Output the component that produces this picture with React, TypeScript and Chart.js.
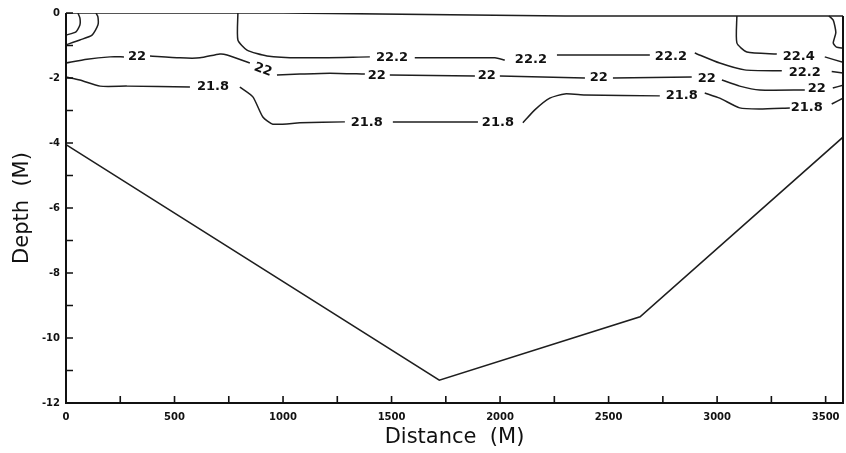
import React, { useEffect, useRef } from 'react';
import { Chart, registerables } from 'chart.js';

Chart.register(...registerables);

type Pt = [number, number];

// Axis ranges and tick labels
const distanceMax = 3580;
const depthMin = -12;
const depthMax = 0;
const xTickValues = [0, 500, 1000, 1500, 2000, 2500, 3000, 3500];
const yTickValues = [-12, -10, -8, -6, -4, -2, 0];

// Bottom (bathymetry) profile
const bottomProfile: Pt[] = [[0, -4.05], [1720, -11.3], [2645, -9.35], [3580, -3.82]];
// Water surface line
const surfaceLine: Pt[] = [[0, 0], [1000, 0], [2300, -0.09], [3580, -0.09]];

// Unlabeled corner contours
const cornerInner: Pt[] = [[0, -0.68], [46, -0.58], [64, -0.37], [64, -0.15], [55, 0]];
const cornerOuter: Pt[] = [[0, -0.98], [64, -0.83], [120, -0.68], [147, -0.37], [147, -0.12], [138, 0]];
const rightWiggle: Pt[] = [[3515, -0.09], [3535, -0.22], [3547, -0.6], [3535, -0.92], [3550, -1.05], [3580, -1.08]];

// Contour 22.4
const c224: Pt[][] = [
  [[3091, -0.09], [3091, -0.92], [3137, -1.2], [3275, -1.26]],
  [[3496, -1.35], [3580, -1.52]],
];

// Contour 22.2
const c222: Pt[][] = [
  [[792, 0], [792, -0.83], [834, -1.14], [926, -1.32], [1078, -1.38], [1400, -1.35]],
  [[1607, -1.38], [1976, -1.38], [2022, -1.45]],
  [[2262, -1.29], [2690, -1.29]],
  [[2897, -1.23], [3012, -1.54], [3127, -1.75], [3298, -1.78]],
  [[3528, -1.8], [3580, -1.85]],
];

// Contour 22
const c22: Pt[][] = [
  [[0, -1.54], [97, -1.42], [203, -1.35], [267, -1.35]],
  [[387, -1.32], [525, -1.38], [617, -1.38], [709, -1.26], [742, -1.29], [847, -1.54]],
  [[972, -1.91], [1078, -1.88], [1216, -1.85], [1377, -1.88]],
  [[1492, -1.91], [1884, -1.94]],
  [[1999, -1.94], [2391, -2.0]],
  [[2520, -2.0], [2883, -1.97]],
  [[3022, -2.06], [3104, -2.25], [3196, -2.37], [3404, -2.37]],
  [[3533, -2.31], [3580, -2.22]],
];

// Contour 21.8
const c218: Pt[][] = [
  [[0, -1.97], [64, -2.06], [157, -2.25], [281, -2.25], [571, -2.28]],
  [[801, -2.28], [861, -2.58], [907, -3.2], [953, -3.42], [1078, -3.38], [1285, -3.35]],
  [[1506, -3.35], [1898, -3.35]],
  [[2105, -3.38], [2160, -2.98], [2229, -2.62], [2298, -2.49], [2391, -2.52], [2736, -2.55]],
  [[2943, -2.46], [3012, -2.62], [3104, -2.92], [3196, -2.95], [3335, -2.92]],
  [[3528, -2.8], [3580, -2.62]],
];

// Contour labels: text, distance, depth, rotation (degrees)
const labelTexts = ['22', '22', '22', '22', '22', '22', '22', '21.8', '21.8', '21.8', '21.8', '21.8', '22.2', '22.2', '22.2', '22.2', '22.4'];
const labelX = [327, 907, 1432, 1939, 2455, 2952, 3459, 677, 1386, 1990, 2837, 3413, 1502, 2142, 2787, 3404, 3376];
const labelY = [-1.35, -1.75, -1.94, -1.94, -2.0, -2.03, -2.34, -2.28, -3.38, -3.38, -2.55, -2.92, -1.38, -1.42, -1.35, -1.82, -1.35];
const labelAngle = [0, 20, 0, 0, 0, 0, 0, 0, 0, 0, 0, 0, 0, 0, 0, 0, 0];

const LINE = '#1e1e1e';

function toData(pts: Pt[]) {
  return pts.map(([x, y]) => ({ x, y }));
}

export default function App() {
  const ref = useRef<HTMLCanvasElement | null>(null);

  useEffect(() => {
    if (!ref.current) return;
    const lines: Pt[][] = [
      bottomProfile, surfaceLine, cornerInner, cornerOuter, rightWiggle,
      ...c224, ...c222, ...c22, ...c218,
    ];
    const datasets = lines.map((pts, i) => ({
      data: toData(pts),
      borderColor: LINE,
      borderWidth: i < 2 ? 1.6 : 1.5,
      pointRadius: 0,
      tension: i < 2 ? 0 : 0.2,
      fill: false,
    }));

    const overlay = {
      id: 'overlay',
      afterDraw(chart: any) {
        const { ctx, chartArea } = chart;
        const xs = chart.scales.x;
        const ys = chart.scales.y;
        ctx.save();
        // frame (left, bottom, right)
        ctx.strokeStyle = '#111';
        ctx.lineWidth = 2;
        ctx.beginPath();
        ctx.moveTo(chartArea.left, chartArea.top);
        ctx.lineTo(chartArea.left, chartArea.bottom);
        ctx.lineTo(chartArea.right, chartArea.bottom);
        ctx.lineTo(chartArea.right, ys.getPixelForValue(-0.09));
        ctx.stroke();
        // inward ticks
        ctx.lineWidth = 1.6;
        ctx.beginPath();
        for (let v = depthMin; v <= depthMax; v += 1) {
          const py = ys.getPixelForValue(v);
          ctx.moveTo(chartArea.left, py);
          ctx.lineTo(chartArea.left + 7, py);
        }
        for (let v = 250; v <= 3500; v += 250) {
          const px = xs.getPixelForValue(v);
          ctx.moveTo(px, chartArea.bottom);
          ctx.lineTo(px, chartArea.bottom - 7);
        }
        ctx.stroke();
        // contour labels
        ctx.fillStyle = '#111';
        ctx.font = 'bold 13px "DejaVu Sans"';
        ctx.textAlign = 'center';
        ctx.textBaseline = 'middle';
        labelTexts.forEach((t, i) => {
          const px = xs.getPixelForValue(labelX[i]);
          const py = ys.getPixelForValue(labelY[i]);
          ctx.save();
          ctx.translate(px, py);
          ctx.rotate((labelAngle[i] * Math.PI) / 180);
          ctx.fillText(t, 0, 0);
          ctx.restore();
        });
        ctx.restore();
      },
    };

    const chart = new Chart(ref.current, {
      type: 'line',
      data: { datasets: datasets as any },
      plugins: [overlay],
      options: {
        animation: false,
        responsive: false,
        devicePixelRatio: 1,
        layout: { padding: { top: 13, right: 3, left: 0, bottom: 0 } },
        plugins: { legend: { display: false }, tooltip: { enabled: false } },
        scales: {
          x: {
            type: 'linear',
            min: 0,
            max: distanceMax,
            grid: { display: false, drawTicks: false },
            border: { display: false },
            ticks: {
              autoSkip: false,
              padding: 8,
              maxRotation: 0,
              color: '#111',
              font: { family: 'DejaVu Sans', weight: 'bold', size: 10 },
              callback: (v: any) => String(v),
            },
            afterBuildTicks: (s: any) => {
              s.ticks = xTickValues.map((v) => ({ value: v }));
            },
            afterFit: (s: any) => {
              s.height = 50;
              s.paddingRight = 0;
            },
            title: {
              display: true,
              text: 'Distance  (M)',
              color: '#111',
              font: { family: 'DejaVu Sans', size: 21 },
              padding: { top: 0, bottom: 3 },
            },
          },
          y: {
            type: 'linear',
            min: depthMin,
            max: depthMax,
            grid: { display: false, drawTicks: false },
            border: { display: false },
            ticks: {
              autoSkip: false,
              padding: 6,
              color: '#111',
              font: { family: 'DejaVu Sans', weight: 'bold', size: 10 },
              callback: (v: any) => String(v),
            },
            afterBuildTicks: (s: any) => {
              s.ticks = yTickValues.map((v) => ({ value: v }));
            },
            afterFit: (s: any) => {
              s.width = 66;
            },
            title: {
              display: true,
              text: 'Depth  (M)',
              color: '#111',
              font: { family: 'DejaVu Sans', size: 21 },
              padding: { top: 10, bottom: 0 },
            },
          },
        },
      } as any,
    });
    return () => chart.destroy();
  }, []);

  return (
    <div style={{ position: 'absolute', left: 0, top: 0, width: 846, height: 453, background: '#fff' }}>
      <canvas ref={ref} width={846} height={453} style={{ display: 'block' }} />
    </div>
  );
}
